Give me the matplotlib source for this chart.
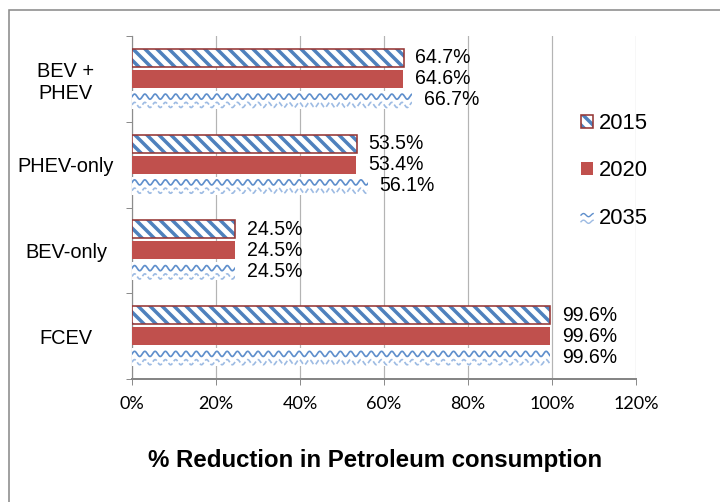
import numpy as np
import matplotlib
matplotlib.use("Agg")
import matplotlib.pyplot as plt
import matplotlib.patches as patches
from matplotlib.lines import Line2D
from matplotlib.legend_handler import HandlerBase, HandlerTuple

plt.rcParams['font.family'] = ['Liberation Sans', 'DejaVu Sans']
plt.rcParams['hatch.linewidth'] = 3.5

categories = ['FCEV', 'BEV-only', 'PHEV-only', 'BEV +\nPHEV']
years = ['2015', '2020', '2035']
v2015 = [99.6, 24.5, 53.5, 64.7]
v2020 = [99.6, 24.5, 53.4, 64.6]
v2035 = [99.6, 24.5, 56.1, 66.7]
xticks = [0, 20, 40, 60, 80, 100, 120]

blue = '#4f81bd'
red = '#c0504d'
darkred = '#953735'

# dpi 72 so that 1pt == 1px
fig = plt.figure(figsize=(10, 502 / 72), dpi=72)
ax = fig.add_axes([132 / 720, 1 - 379 / 502, 504 / 720, 343 / 502])

# outer chart border (runs off right/bottom edges like the source)
fig.add_artist(patches.Rectangle((9 / 720, -0.2), 1.2, 1.2 - 10 / 502,
                                 transform=fig.transFigure, fill=False,
                                 ec='#8c8c8c', lw=1.6))

y = np.arange(len(categories))
h = 0.21
off = 0.245

# 2015: blue diagonal hatch, dark red outline
b15 = ax.barh(y + off, v2015, height=h, color='white', edgecolor=blue,
              hatch='\\\\', linewidth=0, zorder=3)
b15e = ax.barh(y + off, v2015, height=h, fill=False, edgecolor=darkred,
               linewidth=1.6, zorder=4)
# 2020: solid red
b20 = ax.barh(y, v2020, height=h, color=red, linewidth=0, zorder=3)
# 2035: light wavy texture
b35 = ax.barh(y - off, v2035, height=h, color='white', linewidth=0, zorder=3)
for r in b35:
    y0 = r.get_y()
    xs = np.linspace(0, r.get_width() + 3, 800)
    for dy, col, ls in [(0.68, '#5f8fcc', '-'), (0.22, '#9dbbe3', (0, (3, 1.5)))]:
        ys = y0 + dy * h + 0.03 * np.sin(2 * np.pi * xs / 2.45)
        ln, = ax.plot(xs, ys, color=col, lw=1.7, ls=ls, zorder=4)
        ln.set_clip_path(r)

# value labels
for bars, vals in [(b15, v2015), (b20, v2020), (b35, v2035)]:
    for r, v in zip(bars, vals):
        ax.text(v + 2.8, r.get_y() + r.get_height() / 2, f'{v:.1f}%',
                va='center', ha='left', fontsize=19.5, zorder=5)

ax.set_xlim(0, 120)
ax.set_ylim(-0.5, len(categories) - 0.5)
ax.set_xticks(xticks)
ax.set_xticklabels([f'{t}%' for t in xticks], family=['Lato', 'DejaVu Sans'],
                   fontsize=18)
ax.tick_params(axis='x', length=6, width=1, color='#8c8c8c', pad=11)
ax.grid(axis='x', color='#b4b4b4', lw=1.2, zorder=0)
ax.set_axisbelow(True)

ax.set_yticks(np.arange(len(categories) + 1) - 0.5)
ax.set_yticklabels([])
ax.set_yticks(y, minor=True)
ax.set_yticklabels(categories, minor=True, fontsize=20, ha='center',
                   multialignment='center')
ax.tick_params(axis='y', which='major', length=6, width=1, color='#8c8c8c')
ax.tick_params(axis='y', which='minor', length=0, pad=66)

for s in ['top', 'right']:
    ax.spines[s].set_visible(False)
ax.spines['left'].set_color('#8c8c8c')
ax.spines['left'].set_linewidth(1.2)
ax.spines['bottom'].set_color('#868686')
ax.spines['bottom'].set_linewidth(2)


class WaveHandler(HandlerBase):
    def create_artists(self, legend, orig, xd, yd, w, hh, fs, trans):
        t = np.linspace(0, 1, 30)
        arts = []
        for dy, col in [(0.75, '#5f8fcc'), (0.25, '#9dbbe3')]:
            ln = Line2D(xd + w * t, yd + hh * dy + hh * 0.12 * np.sin(2 * np.pi * 1.2 * t),
                        color=col, lw=1.4, transform=trans)
            arts.append(ln)
        return arts


wave_proxy = Line2D([], [])
leg = fig.legend([(b15[0], b15e[0]), b20[0], wave_proxy], years,
                 handler_map={tuple: HandlerTuple(ndivide=1, pad=0),
                              wave_proxy: WaveHandler()},
                 loc='center left', bbox_to_anchor=(581 / 720, 1 - 171 / 502),
                 frameon=False, fontsize=22, handlelength=0.55, handleheight=0.55,
                 handletextpad=0.25, labelspacing=1.2, borderpad=0, borderaxespad=0)

fig.text(375 / 720, 1 - 461 / 502, '% Reduction in Petroleum consumption',
         ha='center', va='center', fontsize=24, fontweight='bold')

fig.savefig('out.png', dpi=72)
